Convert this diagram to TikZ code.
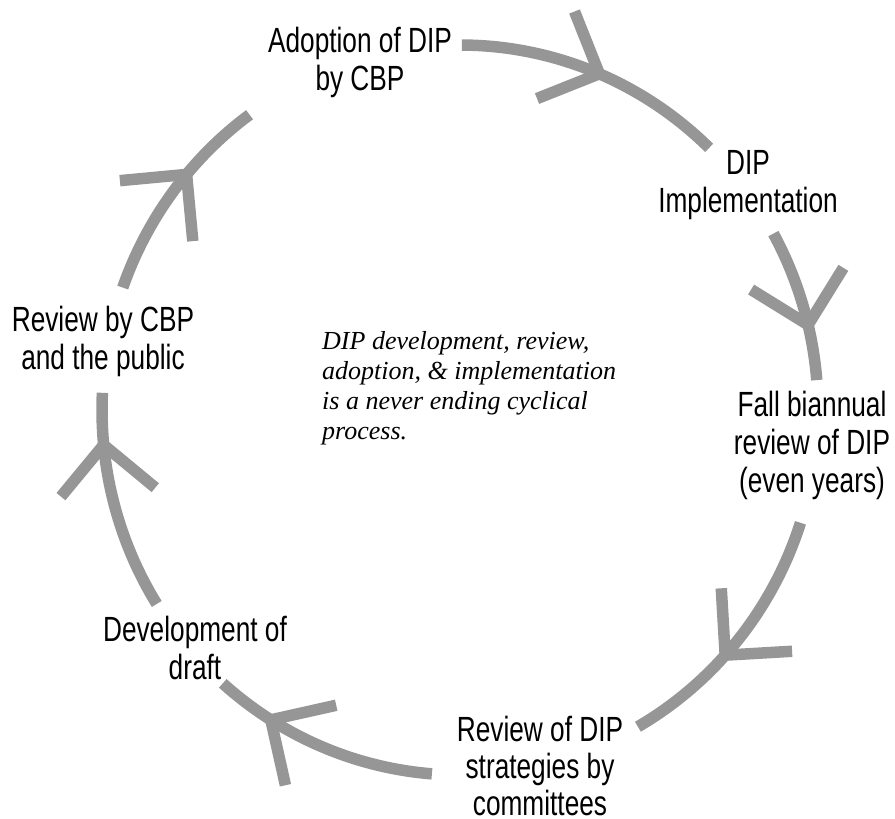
\documentclass[tikz,border=0pt]{standalone}
\usepackage{fontspec}
\newfontfamily\labfont[FakeStretch=0.75]{Liberation Sans}
\newfontfamily\notefont{Liberation Serif}
\usetikzlibrary{calc}
\definecolor{arcgray}{RGB}{150,150,150}
\begin{document}
\begin{tikzpicture}[x=1pt,y=1pt,
  arcline/.style={draw=arcgray, line width=11.5pt, line cap=butt},
  lab/.style={align=center, inner sep=0pt, font=\labfont\fontsize{35}{38}\selectfont},
  note/.style={anchor=north west, align=left, inner sep=0pt, font=\notefont\itshape\fontsize{26}{30}\selectfont}
]
\useasboundingbox (0,0) rectangle (895,-819);
\coordinate (C) at (460,-410);
\foreach \s/\a/\e in {89.7/67.1/45.9, 28.9/13.5/4.7, -18/-42.2/-60.2, -94.5/-121.9/-131.5, -147.9/-174.5/-182.7, 160.4/139.8/126}{
  \pgfmathsetmacro\bang{atan2(365*cos(\a), -358*sin(\a))}
  \pgfmathsetmacro\bangA{\bang+45}
  \pgfmathsetmacro\bangB{\bang-45}
  \draw[arcline] (C) ++(\s:358pt and 365pt) arc[start angle=\s, end angle=\e, x radius=358pt, y radius=365pt];
  \coordinate (apex) at ($(C)+(\a:358pt and 365pt)$);
  \draw[arcline, line join=miter] ($(apex)+(\bangA:67pt)$) -- (apex) -- ($(apex)+(\bangB:67pt)$);
}
\node[lab] (adopt) at (360,-62) {Adoption of DIP\\by CBP};
\node[lab] (impl) at (748,-185) {DIP\\Implementation};
\node[lab] (fall) at (812,-445) {Fall biannual\\review of DIP\\(even years)};
\node[lab, font=\labfont\fontsize{35}{37}\selectfont] (rcomm) at (540,-766) {Review of DIP\\strategies by\\committees};
\node[lab] (devel) at (195,-648) {Development of\\draft};
\node[lab] (rpub) at (103,-341) {Review by CBP\\and the public};
\node[note] (text) at (322,-331) {DIP development, review,\\adoption, \& implementation\\is a never ending cyclical\\process.};
\end{tikzpicture}
\end{document}
